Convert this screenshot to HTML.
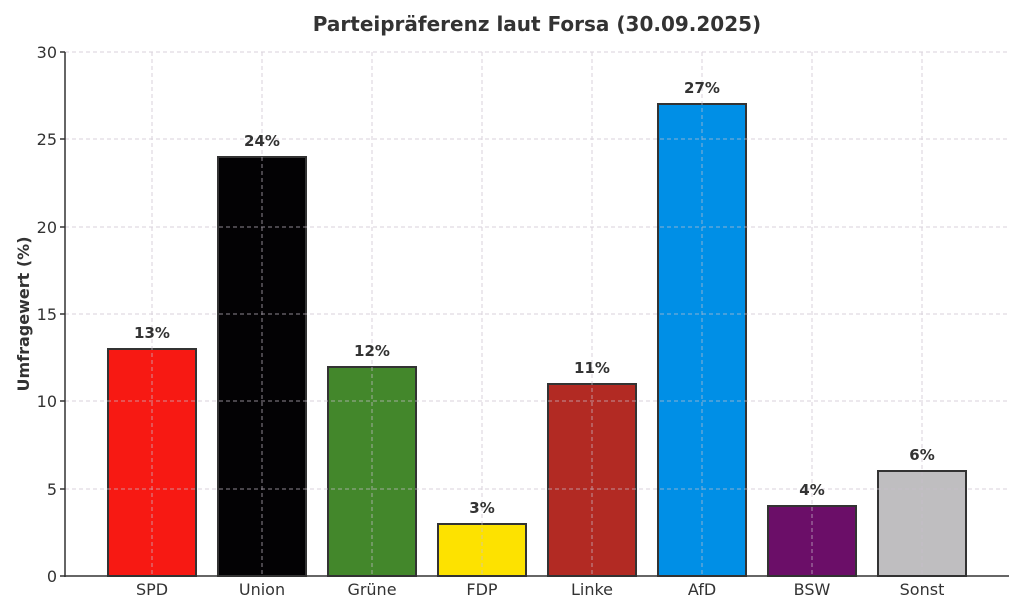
<!DOCTYPE html>
<html><head><meta charset="utf-8"><style>
html,body{margin:0;padding:0;background:#fff}
svg{display:block;font-family:"DejaVu Sans","Liberation Sans",sans-serif}
</style></head><body>
<svg width="1024" height="614" viewBox="0 0 1024 614" xmlns="http://www.w3.org/2000/svg">
<rect width="1024" height="614" fill="#fff"/>
<text x="537" y="31" text-anchor="middle" font-size="20" font-weight="bold" fill="#333">Parteipräferenz laut Forsa (30.09.2025)</text>
<g stroke="#333" stroke-width="2">
<rect x="108" y="349" width="88" height="227" fill="#f71913"/>
<rect x="218" y="157" width="88" height="419" fill="#030204"/>
<rect x="328" y="367" width="88" height="209" fill="#43872b"/>
<rect x="438" y="524" width="88" height="52" fill="#fde200"/>
<rect x="548" y="384" width="88" height="192" fill="#b22a23"/>
<rect x="658" y="104" width="88" height="472" fill="#008fe6"/>
<rect x="768" y="506" width="88" height="70" fill="#6b0e68"/>
<rect x="878" y="471" width="88" height="105" fill="#bfbec0"/>
</g>
<g stroke="#c8bfcc" stroke-width="1" stroke-dasharray="4,3" opacity="0.7">
<line x1="65" x2="1009" y1="52" y2="52"/><line x1="65" x2="1009" y1="139" y2="139"/>
<line x1="65" x2="1009" y1="227" y2="227"/><line x1="65" x2="1009" y1="314" y2="314"/>
<line x1="65" x2="1009" y1="401" y2="401"/><line x1="65" x2="1009" y1="489" y2="489"/>
<line x1="152" x2="152" y1="52" y2="576"/><line x1="262" x2="262" y1="52" y2="576"/>
<line x1="372" x2="372" y1="52" y2="576"/><line x1="482" x2="482" y1="52" y2="576"/>
<line x1="592" x2="592" y1="52" y2="576"/><line x1="702" x2="702" y1="52" y2="576"/>
<line x1="812" x2="812" y1="52" y2="576"/><line x1="922" x2="922" y1="52" y2="576"/>
</g>
<g stroke="#333" stroke-width="1.5">
<line x1="65" x2="65" y1="52" y2="577"/><line x1="64" x2="1009" y1="576" y2="576"/>
<line x1="60" x2="65" y1="52" y2="52"/><line x1="60" x2="65" y1="139" y2="139"/>
<line x1="60" x2="65" y1="227" y2="227"/><line x1="60" x2="65" y1="314" y2="314"/>
<line x1="60" x2="65" y1="401" y2="401"/><line x1="60" x2="65" y1="489" y2="489"/>
<line x1="60" x2="65" y1="576" y2="576"/>
</g>
<g font-size="16" fill="#333" text-anchor="end">
<text x="57" y="58">30</text><text x="57" y="145">25</text><text x="57" y="233">20</text>
<text x="57" y="320">15</text><text x="57" y="407">10</text><text x="57" y="495">5</text><text x="57" y="582">0</text>
</g>
<g font-size="16" fill="#333" text-anchor="middle">
<text x="152" y="595">SPD</text><text x="262" y="595">Union</text><text x="372" y="595">Grüne</text>
<text x="482" y="595">FDP</text><text x="592" y="595">Linke</text><text x="702" y="595">AfD</text>
<text x="812" y="595">BSW</text><text x="922" y="595">Sonst</text>
</g>
<g font-size="15" font-weight="bold" fill="#333" text-anchor="middle">
<text x="152" y="338">13%</text><text x="262" y="146">24%</text><text x="372" y="356">12%</text>
<text x="482" y="513">3%</text><text x="592" y="373">11%</text><text x="702" y="93">27%</text>
<text x="812" y="495">4%</text><text x="922" y="460">6%</text>
</g>
<text transform="translate(29,314) rotate(-90)" text-anchor="middle" font-size="16" font-weight="bold" fill="#333">Umfragewert (%)</text>
</svg>
</body></html>
